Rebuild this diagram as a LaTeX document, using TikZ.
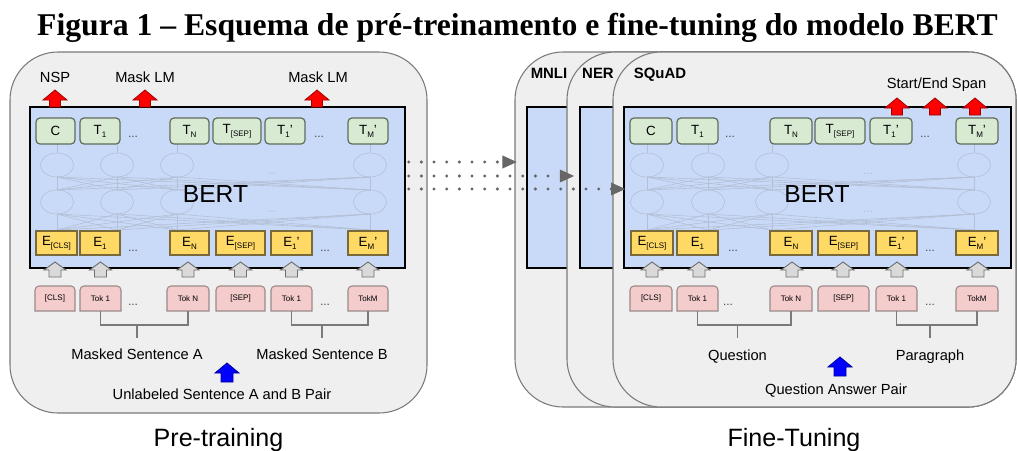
\documentclass[tikz,border=0pt]{standalone}
\usepackage{fontspec}
\setmainfont{Liberation Sans}
\newfontfamily\titlefont{Liberation Serif}
\usetikzlibrary{arrows.meta}
\definecolor{panelfill}{HTML}{EFEFEF}
\definecolor{panelline}{HTML}{7A7A7A}
\definecolor{bertfill}{HTML}{C9DAF8}
\definecolor{greenfill}{HTML}{D9EAD3}
\definecolor{greenline}{HTML}{5F6B5C}
\definecolor{yellowfill}{HTML}{FFD966}
\definecolor{yellowline}{HTML}{7A6A3A}
\definecolor{pinkfill}{HTML}{F4CCCC}
\definecolor{pinkline}{HTML}{9A8A8A}
\definecolor{netcol}{HTML}{B3BFD5}
\definecolor{dotcol}{HTML}{666666}
\definecolor{grayarrfill}{HTML}{D9D9D9}
\definecolor{grayarrline}{HTML}{6E6E6E}
\definecolor{redline}{HTML}{A00000}
\definecolor{blueline}{HTML}{000099}
\newcommand\sbs[1]{\raisebox{-0.45ex}{\fontsize{6}{7}\selectfont #1}}
\tikzset{
 panel/.style={draw=panelline, fill=panelfill, line width=0.8pt, rounded corners=36pt, inner sep=0pt},
 bertbox/.style={draw=black, fill=bertfill, line width=1.5pt, inner sep=0pt},
 tbox/.style={draw=greenline, fill=greenfill, line width=0.9pt, rounded corners=3pt, inner sep=0pt, font=\fontsize{10}{12}\selectfont},
 ebox/.style={draw=yellowline, fill=yellowfill, line width=0.8pt, inner sep=0pt, font=\fontsize{10}{12}\selectfont},
 tokshape/.style={draw=pinkline, fill=pinkfill, line width=0.8pt},
 toktext/.style={inner sep=0pt, font=\fontsize{6}{7}\selectfont},
 lbl/.style={inner sep=0pt, font=\fontsize{11}{13}\selectfont, anchor=base},
 boldlbl/.style={inner sep=0pt, font=\fontsize{11.2}{13}\selectfont\bfseries, anchor=base},
 biglbl/.style={inner sep=0pt, font=\fontsize{18.8}{22}\selectfont, anchor=base},
 dotsl/.style={inner sep=0pt, font=\fontsize{9}{10}\selectfont, text=black!70, anchor=base},
 net/.style={draw=netcol, line width=0.45pt},
 bracket/.style={draw=panelline, line width=0.9pt},
 redarr/.style={fill=red, draw=redline, line width=0.6pt},
 grayarr/.style={fill=grayarrfill, draw=grayarrline, line width=0.7pt},
 bluearr/.style={fill=blue, draw=blueline, line width=0.6pt},
 dotarrow/.style={draw=dotcol, line width=2.5pt, line cap=round, dash pattern=on 0pt off 9.5pt, -{Triangle[length=11pt,width=9pt]}},
}
% box node: name style x1 y1 x2 y2 text
\newcommand\bx[7]{\node[#2, minimum width={(#5-#3)*0.75pt}, minimum height={(#6-#4)*0.75pt}] (#1) at ({(#3+#5)/2},{(#4+#6)/2}) {#7};}
% token box with rounded top corners: name x1 y1 x2 y2 text
\newcommand\tok[6]{%
 \draw[tokshape] (#2,#5) -- ([yshift=-3pt]#2,#3) arc[start angle=180,end angle=90,radius=3pt] -- ([xshift=-3pt]#4,#3) arc[start angle=90,end angle=0,radius=3pt] -- (#4,#5) -- cycle;
 \node[toktext, minimum width={(#4-#2)*0.75pt}, minimum height={(#5-#3)*0.75pt}] (#1) at ({(#2+#4)/2},{(#3+#5)/2}) {#6};}
% block up arrow: style x ytop yheadbase ybottom halfhead halfshaft
\newcommand\uparr[7]{\draw[#1] (#2-#6,#4) -- (#2,#3) -- (#2+#6,#4) -- (#2+#7,#4) -- (#2+#7,#5) -- (#2-#7,#5) -- (#2-#7,#4) -- cycle;}
% network of faint ellipses: list of columns
\newcommand\network[1]{%
 \foreach \a in {#1} {
  \draw[net] (\a,165) ellipse [x radius=12.4pt, y radius=9pt];
  \draw[net] (\a,202) ellipse [x radius=12.4pt, y radius=9pt];
  \draw[net] (\a,144) -- (\a,153);
  \foreach \b in {#1} {
   \draw[net] (\a,190) -- (\b,177);
   \draw[net] (\a,230) -- (\b,214);
  }
 }}
\begin{document}
\begin{tikzpicture}[x=0.75pt,y=-0.75pt]
\useasboundingbox (0,0) rectangle (1017,450);
\fill[white] (0,0) rectangle (1017,450);
\coordinate (ya) at (0,162);
\coordinate (yb) at (0,176);
\coordinate (yc) at (0,189);
\coordinate (ybr) at (0,325);
\coordinate (ytk) at (0,338);

% title
\node[anchor=base, inner sep=0pt, font={\titlefont\bfseries\fontsize{23.75}{26}\selectfont}] (title) at (517.5,35) {Figura 1 – Esquema de pré-treinamento e fine-tuning do modelo BERT};

% ================= Pre-training =================
\bx{ptpanel}{panel}{10}{52}{427}{413}{}
\bx{ptb}{bertbox}{30}{107}{405}{268}{}
\network{57,117,177,370}
\node[dotsl, text=netcol] (pnd1) at (272,174) {...};
\node[dotsl, text=netcol] (pnd2) at (272,212) {...};
\node[biglbl, font=\fontsize{18.5}{22}\selectfont] (pbert) at (215.5,202) {BERT};

\bx{pc}{tbox}{36}{118}{75}{144}{C}
\bx{pt1}{tbox}{80}{118}{120}{144}{T\sbs{1}}
\bx{ptn}{tbox}{170}{118}{209}{144}{T\sbs{N}}
\bx{ptsep}{tbox}{213}{118}{261}{144}{T\sbs{[SEP]}}
\bx{pt1p}{tbox}{265}{118}{305}{144}{T\sbs{1}'}
\bx{ptmp}{tbox}{348}{118}{388}{144}{T\sbs{M}'}
\node[dotsl] (ptd1) at (133,137) {...};
\node[dotsl] (ptd2) at (319,137) {...};

\bx{pecls}{ebox}{36}{231}{77}{255}{E\sbs{[CLS]}}
\bx{pe1}{ebox}{80}{231}{120}{255}{E\sbs{1}}
\bx{pen}{ebox}{170}{231}{209}{255}{E\sbs{N}}
\bx{pesep}{ebox}{216}{231}{265}{255}{E\sbs{[SEP]}}
\bx{pe1p}{ebox}{271}{231}{312}{255}{E\sbs{1}'}
\bx{pemp}{ebox}{348}{231}{388}{255}{E\sbs{M}'}
\node[dotsl] (ped1) at (133,251) {...};
\node[dotsl] (ped2) at (325,251) {...};

\tok{pkcls}{35}{286}{75}{311}{[CLS]}
\tok{pk1}{80}{286}{121}{311}{Tok 1}
\tok{pkn}{167}{286}{209}{311}{Tok N}
\tok{pksep}{216}{286}{265}{311}{[SEP]}
\tok{pk1p}{271}{286}{312}{311}{Tok 1}
\tok{pkm}{348}{286}{388}{311}{TokM}
\node[dotsl] (pkd1) at (133,305) {...};
\node[dotsl] (pkd2) at (325,305) {...};

\foreach \x in {55,100.5,188,240.5,291.5,368} {\uparr{grayarr}{\x}{262}{270}{277}{11}{6}}
\uparr{redarr}{55}{90}{100}{107}{12}{5.5}
\uparr{redarr}{145}{90}{100}{107}{12}{5.5}
\uparr{redarr}{317}{90}{100}{107}{12}{5.5}
\node[lbl] (nsp) at (55,82) {NSP};
\node[lbl] (mlm1) at (145,82) {Mask LM};
\node[lbl] (mlm2) at (318,82) {Mask LM};

\node[lbl] (msa) at (137,359.5) {Masked Sentence A};
\node[lbl] (msb) at (322,359.5) {Masked Sentence B};
\draw[bracket] (pk1.south) -- (pk1.south |- ybr) -- (pkn.south |- ybr) -- (pkn.south);
\draw[bracket] (msa.north |- ybr) -- (msa.north |- ytk);
\draw[bracket] (pk1p.south) -- (pk1p.south |- ybr) -- (pkm.south |- ybr) -- (pkm.south);
\draw[bracket] (msb.north |- ybr) -- (msb.north |- ytk);
\uparr{bluearr}{227}{363}{373}{382}{12}{6}
\node[lbl] (unl) at (222,399) {Unlabeled Sentence A and B Pair};
\node[biglbl] (pre) at (218.5,446) {Pre-training};

% ================= Fine-tuning =================
\bx{mnli}{panel}{515}{52}{1016}{407}{}
\bx{mnlib}{bertbox}{527}{107}{1011}{268}{}
\node[boldlbl] (mnlil) at (549,78) {MNLI};
\bx{ner}{panel}{567}{52}{1016}{407}{}
\bx{nerb}{bertbox}{580}{107}{1011}{268}{}
\node[boldlbl] (nerl) at (598,78) {NER};
\bx{sq}{panel}{613}{52}{1016}{407}{}
\bx{sqb}{bertbox}{624}{107}{1011}{268}{}
\node[boldlbl] (sql) at (660,78) {SQuAD};
\network{647,708,772,974}
\node[dotsl, text=netcol] (fnd1) at (868,174) {...};
\node[dotsl, text=netcol] (fnd2) at (868,212) {...};
\node[biglbl, font=\fontsize{18.5}{22}\selectfont] (fbert) at (817,202) {BERT};

\bx{fc}{tbox}{630}{118}{672}{144}{C}
\bx{ft1}{tbox}{677}{118}{718}{144}{T\sbs{1}}
\bx{ftn}{tbox}{770}{118}{812}{144}{T\sbs{N}}
\bx{ftsep}{tbox}{815}{118}{865}{144}{T\sbs{[SEP]}}
\bx{ft1p}{tbox}{870}{118}{912}{144}{T\sbs{1}'}
\bx{ftmp}{tbox}{956}{118}{998}{144}{T\sbs{M}'}
\node[dotsl] (ftd1) at (730,137) {...};
\node[dotsl] (ftd2) at (925,137) {...};

\bx{fecls}{ebox}{631}{231}{673}{255}{E\sbs{[CLS]}}
\bx{fe1}{ebox}{677}{231}{718}{255}{E\sbs{1}}
\bx{fen}{ebox}{770}{231}{812}{255}{E\sbs{N}}
\bx{fesep}{ebox}{818}{231}{869}{255}{E\sbs{[SEP]}}
\bx{fe1p}{ebox}{876}{231}{917}{255}{E\sbs{1}'}
\bx{femp}{ebox}{956}{231}{998}{255}{E\sbs{M}'}
\node[dotsl] (fed1) at (733,251) {...};
\node[dotsl] (fed2) at (930,251) {...};

\tok{fkcls}{630}{286}{672}{311}{[CLS]}
\tok{fk1}{677}{286}{718}{311}{Tok 1}
\tok{fkn}{770}{286}{812}{311}{Tok N}
\tok{fksep}{818}{286}{869}{311}{[SEP]}
\tok{fk1p}{876}{286}{917}{311}{Tok 1}
\tok{fkm}{956}{286}{998}{311}{TokM}
\node[dotsl] (fkd1) at (728,305) {...};
\node[dotsl] (fkd2) at (930,305) {...};

\foreach \x in {652,699,792,843,897,978} {\uparr{grayarr}{\x}{262}{270}{277}{11}{6}}
\uparr{redarr}{897}{98}{108}{115}{12}{5.5}
\uparr{redarr}{935}{98}{108}{115}{12}{5.5}
\uparr{redarr}{975}{98}{108}{115}{12}{5.5}
\node[lbl] (span) at (936.5,88) {Start/End Span};

\node[lbl] (qst) at (737.5,360) {Question};
\node[lbl] (par) at (930,360) {Paragraph};
\draw[bracket] (fk1.south) -- (fk1.south |- ybr) -- (fkn.south |- ybr) -- (fkn.south);
\draw[bracket] (qst.north |- ybr) -- (qst.north |- ytk);
\draw[bracket] (fk1p.south) -- (fk1p.south |- ybr) -- (fkm.south |- ybr) -- (fkm.south);
\draw[bracket] (par.north |- ybr) -- (par.north |- ytk);
\uparr{bluearr}{840}{357}{367}{376}{12}{6}
\node[lbl] (qap) at (836,394) {Question Answer Pair};
\node[biglbl] (fine) at (794,446) {Fine-Tuning};

% dotted transfer arrows
\draw[dotarrow, shorten <=2pt, shorten >=-2pt] (ptb.east |- ya) -- (mnli.west |- ya);
\draw[dotarrow, shorten <=2pt, shorten >=-6pt] (ptb.east |- yb) -- (ner.west |- yb);
\draw[dotarrow, shorten <=2pt, shorten >=-2pt] (ptb.east |- yc) -- (sqb.west |- yc);
\end{tikzpicture}
\end{document}
